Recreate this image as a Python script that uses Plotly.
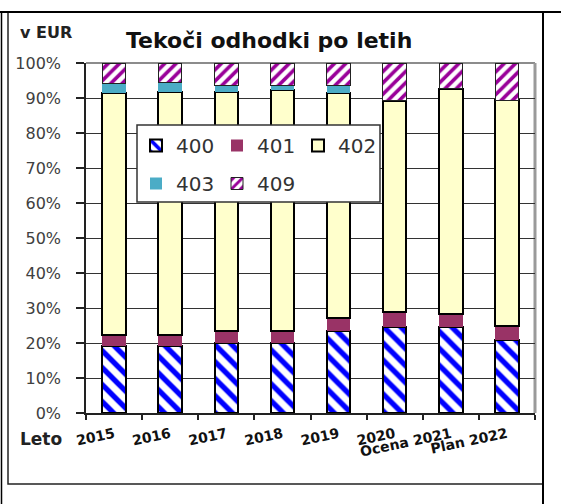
import plotly.graph_objects as go

categories = ["2015", "2016", "2017", "2018", "2019", "2020", "Ocena 2021", "Plan 2022"]
s400 = [19.1, 19.1, 20.1, 20.1, 23.5, 24.5, 24.5, 20.9]
s401 = [3.2, 3.2, 3.4, 3.4, 3.6, 4.5, 3.8, 3.9]
s402 = [69.0, 69.3, 68.1, 68.7, 64.3, 60.2, 64.3, 64.6]
s403 = [2.9, 2.9, 1.9, 1.4, 2.1, 0.0, 0.0, 0.0]
s409 = [5.8, 5.5, 6.5, 6.4, 6.5, 10.8, 7.4, 10.6]
y_ticks = [0, 10, 20, 30, 40, 50, 60, 70, 80, 90, 100]

W, H = 561, 504
L, R, T, B = 86, 26, 63, 91
PW, PH = W - L - R, H - T - B


def fx(px):
    return (px - L) / PW


def fy(py):
    return (H - B - py) / PH


BW = 0.42
fig = go.Figure()
fig.add_bar(name="400", x=categories, y=s400, width=BW, legend="legend",
            marker=dict(color="white", line=dict(color="black", width=2),
                        pattern=dict(shape="\\", fgcolor="#0000ff", bgcolor="white",
                                     size=12, solidity=0.45, fillmode="replace", fgopacity=1)))
fig.add_bar(name="401", x=categories, y=s401, width=BW, legend="legend",
            marker=dict(color="#993366", line=dict(width=0)))
fig.add_bar(name="402", x=categories, y=s402, width=BW, legend="legend",
            marker=dict(color="#ffffcc", line=dict(color="black", width=2)))
fig.add_bar(name="403", x=categories, y=s403, width=BW, legend="legend2",
            marker=dict(color="#4bacc6", line=dict(width=0)))
fig.add_bar(name="409", x=categories, y=s409, width=BW, legend="legend2",
            marker=dict(color="white", line=dict(color="#222", width=1),
                        pattern=dict(shape="/", fgcolor="#990099", bgcolor="white",
                                     size=8, solidity=0.45, fillmode="replace", fgopacity=1)))

leg_common = dict(orientation="h", bgcolor="rgba(0,0,0,0)", borderwidth=0,
                  font=dict(family="DejaVu Sans", size=20, color="#333"),
                  entrywidth=36, xanchor="left", yanchor="top", traceorder="normal",
                  itemclick=False, itemdoubleclick=False, tracegroupgap=0)

shapes = [
    dict(type="rect", xref="paper", yref="paper", x0=fx(8), x1=fx(543), y0=fy(484), y1=fy(12),
         line=dict(color="#222", width=1.5), layer="below"),
    dict(type="line", xref="paper", yref="paper", x0=fx(0), x1=fx(561), y0=fy(12), y1=fy(12),
         line=dict(color="black", width=2)),
    dict(type="line", xref="paper", yref="paper", x0=fx(1.5), x1=fx(1.5), y0=fy(12), y1=fy(504),
         line=dict(color="black", width=1.5)),
    dict(type="line", xref="paper", yref="paper", x0=fx(543), x1=fx(543), y0=fy(12), y1=fy(504),
         line=dict(color="black", width=2)),
    dict(type="line", xref="paper", yref="paper", x0=0, x1=1, y0=1, y1=1,
         line=dict(color="#8c8c8c", width=2), layer="below"),
    dict(type="line", xref="paper", yref="paper", x0=1, x1=1, y0=0, y1=1,
         line=dict(color="#9a9a9a", width=3), layer="below"),
    dict(type="rect", xref="paper", yref="paper", x0=fx(137), x1=fx(380), y0=fy(202), y1=fy(125),
         fillcolor="white", line=dict(color="#333", width=1.5), layer="above"),
]

annotations = [
    dict(text="<b>Tekoči odhodki po letih</b>", xref="paper", yref="paper",
         x=fx(269), y=fy(40), showarrow=False, xanchor="center", yanchor="middle",
         font=dict(family="DejaVu Sans", size=22, color="#111")),
    dict(text="<b>v EUR</b>", xref="paper", yref="paper",
         x=fx(46), y=fy(32), showarrow=False, xanchor="center", yanchor="middle",
         font=dict(family="DejaVu Sans", size=16, color="#222")),
    dict(text="<b>Leto</b>", xref="paper", yref="paper",
         x=fx(41), y=fy(439), showarrow=False, xanchor="center", yanchor="middle",
         font=dict(family="DejaVu Sans", size=17, color="#222")),
]

fig.update_layout(
    width=W, height=H,
    margin=dict(l=L, r=R, t=T, b=B, pad=0),
    paper_bgcolor="white", plot_bgcolor="white",
    barmode="stack", bargap=0.58,
    showlegend=True,
    legend=dict(**leg_common, x=fx(136), y=fy(126)),
    legend2=dict(**leg_common, x=fx(136), y=fy(164)),
    shapes=shapes,
    annotations=annotations,
    xaxis=dict(type="category", showgrid=False, showline=True, linecolor="#222", linewidth=1.5,
               ticks="outside", ticklen=5, tickcolor="#222", tickwidth=1.5, tickson="boundaries",
               tickangle=-12, ticklabelstandoff=6,
               tickfont=dict(family="DejaVu Sans", size=14, color="#111", weight="bold"),
               fixedrange=True),
    yaxis=dict(range=[0, 100], tickvals=y_ticks, ticktext=[f"{v}%" for v in y_ticks],
               showgrid=True, gridcolor="#333", gridwidth=1, zeroline=False,
               showline=True, linecolor="#222", linewidth=1.5,
               ticks="outside", ticklen=8, tickcolor="#222", tickwidth=1.5,
               ticklabelstandoff=12,
               tickfont=dict(family="DejaVu Sans", size=16, color="#404040"),
               fixedrange=True),
)

fig.write_html("out.html", config={"displayModeBar": False},
               post_script="document.body.style.margin='0';")
